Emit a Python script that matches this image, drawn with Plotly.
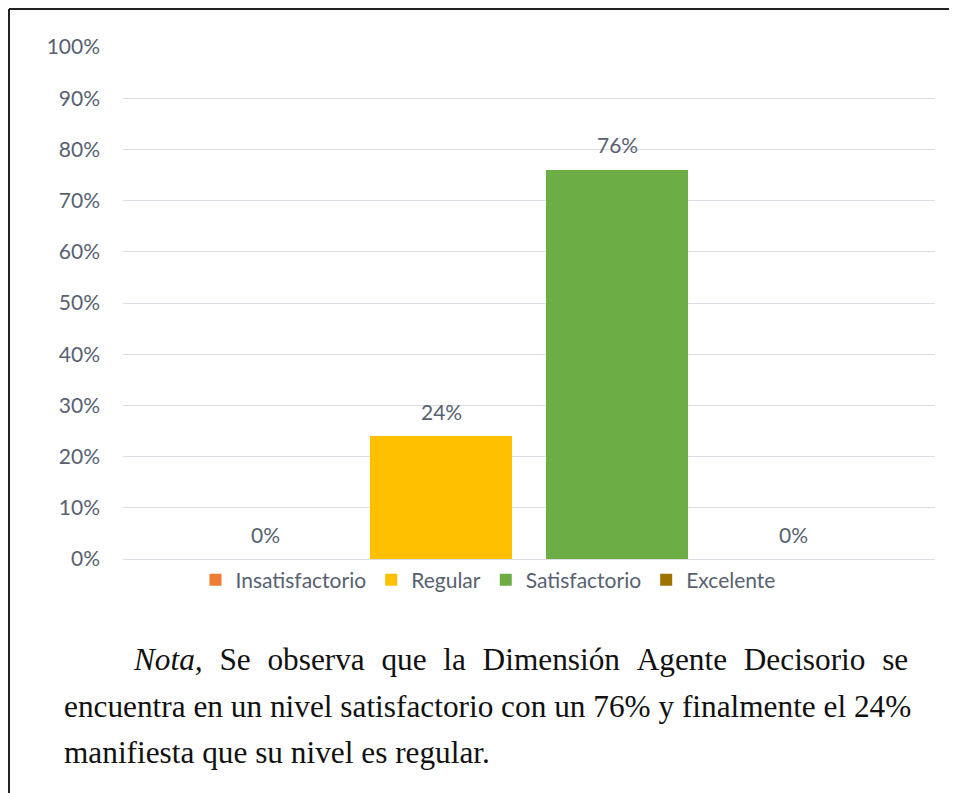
import plotly.graph_objects as go

# === Datos ===
categorias = ["Insatisfactorio", "Regular", "Satisfactorio", "Excelente"]
valores = [0.0, 0.24, 0.76, 0.0]
colores = ["#ED7D31", "#FFC000", "#6DAD45", "#9E7400"]

esp = "\u00a0\u2009\u200a"  # espaciado para simular el texto justificado
nota_lineas = [
    esp.join(["<i>Nota,</i>", "Se", "observa", "que", "la", "Dimensión",
              "Agente", "Decisorio", "se"]),
    "encuentra en un nivel satisfactorio con un 76% y finalmente el 24%",
    "manifiesta que su nivel es regular.",
]

W, H = 957, 793
O = 8  # margen del body de la página
L, R, T, B = 123 - O, 30, 47 - O, 242
pw, ph = W - L - R, H - T - B


def px_x(x):
    return (x - O - L) / pw


def px_y(y):
    return (H - B - (y - O)) / ph


gris = "#586171"
bargap = 0.133
fig = go.Figure()
for nombre, v, c in zip(categorias, valores, colores):
    fig.add_trace(go.Bar(
        x=[0], y=[v], name=nombre,
        marker=dict(color=c, line=dict(width=0)),
        cliponaxis=False,
    ))

# etiquetas de datos sobre cada barra
ancho = (1 - bargap) / len(valores)
for i, v in enumerate(valores):
    fig.add_annotation(x=(i - (len(valores) - 1) / 2) * ancho, y=v,
                       text=f"{v:.0%}", showarrow=False, yshift=25,
                       font=dict(size=21, color=gris))

fig.update_layout(
    width=W, height=H,
    margin=dict(l=L, r=R, t=T, b=B),
    paper_bgcolor="white", plot_bgcolor="white",
    barmode="group", bargap=bargap, bargroupgap=0.193,
    font=dict(family="Lato", color=gris, size=21),
    yaxis=dict(range=[0, 1], dtick=0.1, tickformat=".0%",
               gridcolor="#dcdee3", gridwidth=1, zeroline=False,
               showline=False, ticks="", ticklabelstandoff=22),
    xaxis=dict(showticklabels=False, showline=True, linecolor="#dcdee3",
               linewidth=1, range=[-0.5, 0.5]),
    showlegend=True,
    legend=dict(orientation="h", x=px_x(488), xanchor="center",
                y=px_y(580), yanchor="middle", font=dict(size=21),
                itemwidth=30, traceorder="normal"),
)

# marco del documento (solo borde superior e izquierdo)
fig.add_shape(type="line", xref="paper", yref="paper",
              x0=px_x(9), x1=px_x(965), y0=px_y(9), y1=px_y(9),
              line=dict(color="#222222", width=2))
fig.add_shape(type="line", xref="paper", yref="paper",
              x0=px_x(9), x1=px_x(9), y0=px_y(9), y1=px_y(830),
              line=dict(color="#222222", width=2))

# nota al pie
pos = [(131, 659), (62, 706), (62, 752)]
for (x, y), t in zip(pos, nota_lineas):
    fig.add_annotation(text=t, xref="paper", yref="paper",
                       x=px_x(x), y=px_y(y), xanchor="left", yanchor="middle",
                       showarrow=False,
                       font=dict(family="Liberation Serif", size=31.3,
                                 color="#111111"))

fig.write_html("out.html")
